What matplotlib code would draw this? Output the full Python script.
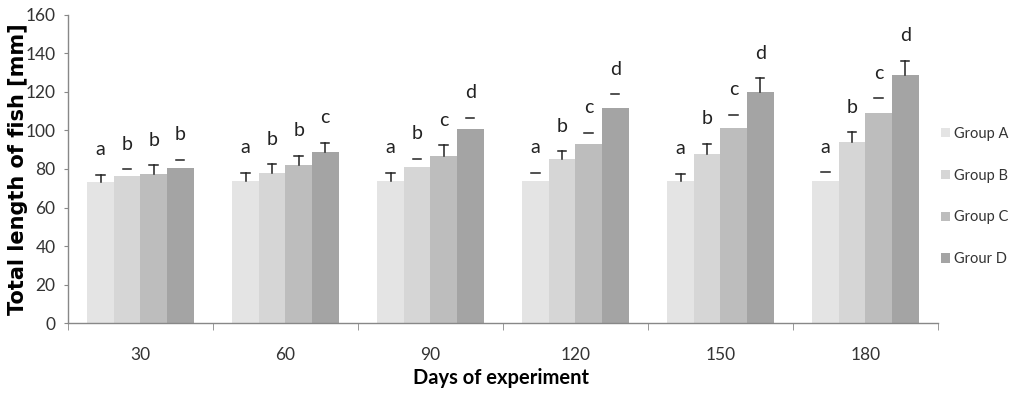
import matplotlib
matplotlib.use("Agg")
import matplotlib.pyplot as plt
import numpy as np
from matplotlib.patches import Patch

days = ["30", "60", "90", "120", "150", "180"]
groups = ["Group A", "Group B", "Group C", "Grour D"]

group_a = [73, 74, 74, 74, 74, 74]
group_b = [76.5, 78, 81, 85, 88, 94]
group_c = [77.5, 82, 87, 93, 101.5, 109]
group_d = [80.5, 89, 101, 111.5, 120, 129]

err_a = [4, 4, 4, 4, 3.5, 4.3]
err_b = [3.4, 4.5, 4.2, 4.3, 5.2, 5.2]
err_c = [4.5, 4.8, 5.4, 5.9, 6.6, 7.8]
err_d = [4.4, 4.7, 5.6, 7.3, 7.0, 7.3]

# whether the error bar stem is visible ("T") or only the cap ("-")
stem_a = [True, True, True, False, True, False]
stem_b = [False, True, False, True, True, True]
stem_c = [True, True, True, False, False, False]
stem_d = [False, True, False, False, True, True]

letters_a = ["a", "a", "a", "a", "a", "a"]
letters_b = ["b", "b", "b", "b", "b", "b"]
letters_c = ["b", "b", "c", "c", "c", "c"]
letters_d = ["b", "c", "d", "d", "d", "d"]

values = [group_a, group_b, group_c, group_d]
errors = [err_a, err_b, err_c, err_d]
stems = [stem_a, stem_b, stem_c, stem_d]
letters = [letters_a, letters_b, letters_c, letters_d]
colors = ["#e4e4e4", "#d6d6d6", "#bdbdbd", "#a4a4a4"]

NARROW = ["Lato", "DejaVu Sans"]

fig = plt.figure(figsize=(10.14, 3.93), dpi=100)
ax = fig.add_axes([0.067, 0.178, 0.858, 0.784])

x = np.arange(len(days))
w = 0.183
for i in range(4):
    pos = x + (i - 1.5) * w
    ax.bar(pos, values[i], width=w, color=colors[i], edgecolor="none", zorder=2)
    for j in range(len(days)):
        top = values[i][j] + errors[i][j]
        cw = w * 0.16
        ax.plot([pos[j] - cw, pos[j] + cw], [top, top], color="#222222", lw=1.1, zorder=3)
        if stems[i][j]:
            ax.plot([pos[j], pos[j]], [values[i][j], top], color="#222222", lw=1.1, zorder=3)
        ax.annotate(letters[i][j], (pos[j], top), xytext=(0, 18), textcoords="offset points",
                    ha="center", va="center", fontsize=14, family=NARROW, color="#222222")

ax.set_xlim(-0.5, len(days) - 0.5)
ax.set_ylim(0, 160)
ax.set_yticks(np.arange(0, 161, 20))
ax.set_xticks(x)
ax.set_xticklabels(days, family=NARROW, fontsize=12.5, color="#333333")
ax.set_xticks(np.arange(-0.5, len(days), 1), minor=True)
ax.tick_params(axis="x", which="major", length=0, pad=17)
ax.tick_params(axis="x", which="minor", length=5, color="#888888", direction="out")
ax.tick_params(axis="y", length=3, color="#888888", pad=6)
for lab in ax.get_yticklabels():
    lab.set_family(NARROW)
    lab.set_fontsize(12.5)
    lab.set_color("#333333")

for s in ["top", "right"]:
    ax.spines[s].set_visible(False)
for s in ["left", "bottom"]:
    ax.spines[s].set_color("#888888")
    ax.spines[s].set_linewidth(1.0)

ax.set_ylabel("Total length of fish [mm]", family="DejaVu Sans", fontweight="bold",
              fontsize=15, va="center")
ax.yaxis.set_label_coords(-0.0575, 0.5)
ax.set_xlabel("Days of experiment", family=NARROW, fontweight="bold", fontsize=14.5, va="center")
ax.xaxis.set_label_coords(0.498, -0.178)

handles = [Patch(facecolor=c, edgecolor="none") for c in colors]
leg = fig.legend(handles, groups, loc="center left", bbox_to_anchor=(0.928, 0.50),
                 frameon=False, handlelength=0.6, handleheight=0.6, handletextpad=0.3,
                 borderpad=0, borderaxespad=0,
                 labelspacing=1.9, prop={"family": NARROW, "size": 10.5})
for t in leg.get_texts():
    t.set_color("#333333")

fig.savefig("out.png", dpi=100)
